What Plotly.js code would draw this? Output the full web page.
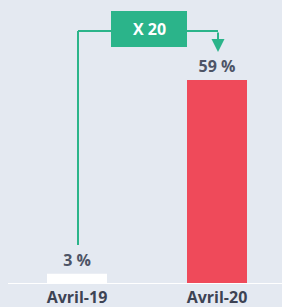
<!DOCTYPE html>
<html><head><meta charset="utf-8">
<script src="https://cdn.plot.ly/plotly-3.0.1.min.js"></script>
<style>html,body{margin:0;padding:0;background:#e4e9f1;}#c{width:282px;height:307px;}</style>
</head><body><div id="c"></div>
<script>
var categories = ["Avril-19", "Avril-20"];
var values = [3, 59];
var barColors = ["#ffffff", "#ef4a5a"];
var ratioLabel = "X 20";

var green = "#2bb48a";
var fam = "'Open Sans', Lato, sans-serif";
var pxPerUnit = 204 / 59;
function yv(px){ return (284 - px) / pxPerUnit; }
function xv(px){ return (px - 77) / 140; }

var trace = {
  type: "bar",
  x: [0, 1],
  y: values,
  width: 60/140,
  marker: {color: barColors, line: {width: 0}},
  text: values.map(function(v){ return v + " %"; }),
  textposition: "outside",
  cliponaxis: false,
  textfont: {family: fam, size: 16, color: "#4d5466", weight: 700},
  hoverinfo: "none"
};

var layout = {
  width: 282, height: 307,
  margin: {l: 0, r: 0, t: 0, b: 23, pad: 0},
  paper_bgcolor: "#e4e9f1",
  plot_bgcolor: "#e4e9f1",
  showlegend: false,
  font: {family: fam},
  xaxis: {
    range: [-77/140, 205/140],
    tickvals: [0, 1],
    ticktext: categories,
    ticklabelstandoff: 2,
    tickfont: {family: fam, size: 16, color: "#3d4354", weight: 700},
    showgrid: false, zeroline: false, showline: false, ticks: "", fixedrange: true
  },
  yaxis: {
    range: [0, 284 / pxPerUnit],
    showgrid: false, zeroline: false, showline: false, showticklabels: false, fixedrange: true
  },
  shapes: [
    {type: "line", xref: "paper", yref: "y", x0: 8/282, x1: 1, y0: 0, y1: 0, line: {color: "#ffffff", width: 2}},
    {type: "line", xref: "x", yref: "y", x0: xv(78), x1: xv(78), y0: yv(245), y1: yv(31), line: {color: green, width: 2}},
    {type: "line", xref: "x", yref: "y", x0: xv(78), x1: xv(112), y0: yv(31), y1: yv(31), line: {color: green, width: 2}},
    {type: "line", xref: "x", yref: "y", x0: xv(186), x1: xv(218), y0: yv(31), y1: yv(31), line: {color: green, width: 2}},
    {type: "rect", xref: "x", yref: "y", x0: xv(111), x1: xv(187), y0: yv(47), y1: yv(11), fillcolor: green, line: {width: 0}}
  ],
  annotations: [
    {xref: "x", yref: "y", x: xv(149), y: yv(29), text: ratioLabel, showarrow: false,
     font: {family: fam, size: 16, color: "#ffffff", weight: 700}},
    {xref: "x", yref: "y", x: xv(218), y: yv(52), ax: xv(218), ay: yv(31), axref: "x", ayref: "y",
     text: "", showarrow: true, arrowhead: 2, arrowsize: 1.3, arrowwidth: 2, arrowcolor: green}
  ]
};

Plotly.newPlot("c", [trace], layout, {displayModeBar: false, staticPlot: true});
</script>
</body></html>
